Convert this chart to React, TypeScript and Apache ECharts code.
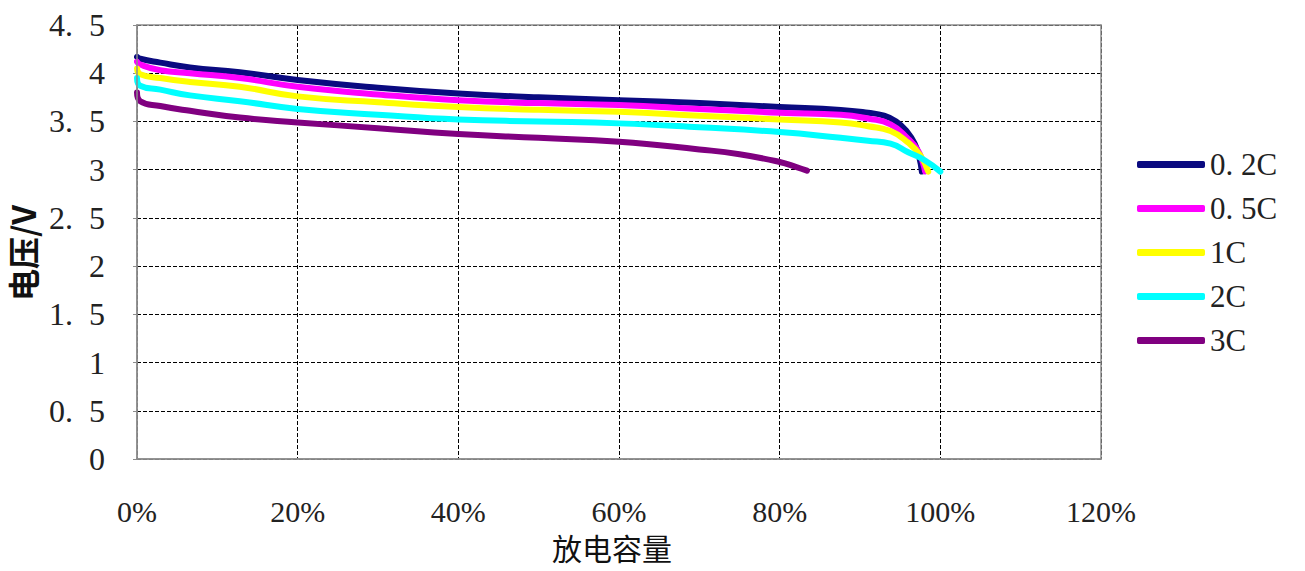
import React, { useEffect, useRef } from "react";
import * as echarts from "echarts";

// Discharge capacity (fraction of nominal) and voltage (V) for each discharge rate
const seriesNames = ["0.2C", "0.5C", "1C", "2C", "3C"];
const seriesColors = ["#0a0a80", "#ff00ff", "#ffff00", "#00ffff", "#800080"];

const capacity02 = [0, 0.004, 0.029, 0.066, 0.128, 0.2, 0.3, 0.4, 0.5, 0.6, 0.7, 0.8, 0.876, 0.91, 0.93, 0.945, 0.958, 0.968, 0.974, 0.977];
const voltage02 = [4.17, 4.15, 4.11, 4.06, 4.01, 3.93, 3.85, 3.79, 3.75, 3.72, 3.69, 3.65, 3.62, 3.59, 3.56, 3.5, 3.4, 3.27, 3.12, 2.98];

const capacity05 = [0, 0.004, 0.029, 0.066, 0.128, 0.2, 0.3, 0.4, 0.5, 0.6, 0.7, 0.8, 0.876, 0.91, 0.938, 0.96, 0.972, 0.978, 0.981];
const voltage05 = [4.12, 4.09, 4.03, 4.0, 3.95, 3.86, 3.78, 3.72, 3.69, 3.67, 3.63, 3.59, 3.57, 3.53, 3.47, 3.32, 3.2, 3.08, 2.98];

const capacity1 = [0, 0.004, 0.029, 0.066, 0.128, 0.2, 0.3, 0.4, 0.5, 0.6, 0.7, 0.8, 0.876, 0.91, 0.938, 0.96, 0.975, 0.985];
const voltage1 = [4.05, 3.99, 3.95, 3.91, 3.86, 3.76, 3.7, 3.65, 3.62, 3.6, 3.56, 3.52, 3.49, 3.45, 3.4, 3.28, 3.15, 2.98];

const capacity2 = [0, 0.004, 0.029, 0.066, 0.128, 0.2, 0.3, 0.4, 0.5, 0.6, 0.7, 0.8, 0.876, 0.91, 0.938, 0.96, 0.98, 1.0];
const voltage2 = [3.95, 3.87, 3.83, 3.77, 3.71, 3.63, 3.57, 3.52, 3.5, 3.48, 3.44, 3.39, 3.33, 3.3, 3.27, 3.18, 3.1, 2.98];

const capacity3 = [0, 0.004, 0.029, 0.066, 0.128, 0.2, 0.3, 0.4, 0.5, 0.6, 0.7, 0.75, 0.8, 0.82, 0.834];
const voltage3 = [3.8, 3.71, 3.66, 3.61, 3.54, 3.49, 3.43, 3.37, 3.33, 3.29, 3.21, 3.16, 3.08, 3.03, 2.99];

const capacities = [capacity02, capacity05, capacity1, capacity2, capacity3];
const voltages = [voltage02, voltage05, voltage1, voltage2, voltage3];

const xTitle = "放电容量";
const yTitle = "电压/V";

const serif = "'Times New Roman', 'Liberation Serif', serif";
const cjk = "'Noto Sans CJK SC', sans-serif";

export default function App() {
  const ref = useRef<HTMLDivElement>(null);
  useEffect(() => {
    if (!ref.current) return;
    const chart = echarts.init(ref.current, undefined, { renderer: "svg" });
    const dashed = { show: true, lineStyle: { color: "#000", type: [4, 2] as any, width: 1 } };
    const gray = "#8c8c8c";
    const borderAxisX = (pos: string) => ({
      type: "value", min: 0, max: 1.2, interval: 0.2, position: pos, z: 5,
      axisLine: { show: true, onZero: false, lineStyle: { color: gray, width: 1.5 } },
      axisTick: { show: false }, axisLabel: { show: false }, splitLine: { show: false },
    });
    const borderAxisY = (pos: string) => ({
      type: "value", min: 0, max: 4.5, interval: 0.5, position: pos, z: 5,
      axisLine: { show: true, onZero: false, lineStyle: { color: gray, width: 1.5 } },
      axisTick: { show: false }, axisLabel: { show: false }, splitLine: { show: false },
    });
    chart.setOption({
      animation: false,
      backgroundColor: "#fff",
      textStyle: { fontFamily: serif },
      grid: { left: 137, right: 204, top: 25, bottom: 112, outerBoundsMode: "none", containLabel: false },
      legend: {
        orient: "vertical",
        left: 1132,
        top: 144,
        itemWidth: 68,
        itemHeight: 7,
        itemGap: 13,
        itemTextGap: 3,
        icon: "roundRect",
        data: seriesNames,
        formatter: (n: string) => n.replace(".", ". "),
        textStyle: { fontFamily: serif, fontSize: 31, color: "#222", lineHeight: 29 },
      },
      xAxis: [
        {
          type: "value",
          min: 0,
          max: 1.2,
          interval: 0.2,
          name: xTitle,
          nameLocation: "middle",
          nameGap: 70,
          nameTextStyle: { fontFamily: cjk, fontSize: 30, lineHeight: 32, color: "#111", padding: [0, 14, 0, 0] },
          axisLine: { show: true, onZero: false, lineStyle: { color: gray, width: 1.5 } },
          axisTick: { show: false },
          axisLabel: {
            margin: 38,
            fontFamily: serif,
            fontSize: 30,
            lineHeight: 28,
            color: "#222",
            formatter: (v: number) => Math.round(v * 100) + "%",
          },
          splitLine: dashed,
        },
        borderAxisX("top"),
        borderAxisX("bottom"),
      ],
      yAxis: [
        {
          type: "value",
          min: 0,
          max: 4.5,
          interval: 0.5,
          name: yTitle,
          nameLocation: "middle",
          nameGap: 92,
          nameTextStyle: { fontFamily: cjk, fontSize: 32, fontWeight: "bold", color: "#111", padding: [0, 22, 0, 0] },
          axisLine: { show: true, lineStyle: { color: gray, width: 1.5 } },
          axisTick: { show: true, length: 4, lineStyle: { color: gray } },
          axisLabel: {
            margin: 32,
            fontFamily: serif,
            fontSize: 32,
            color: "#222",
            formatter: (v: number) => String(v).replace(".", ".  "),
          },
          splitLine: dashed,
        },
        borderAxisY("right"),
        borderAxisY("left"),
      ],
      series: seriesNames.map((name, i) => ({
        name,
        type: "line",
        xAxisIndex: 0,
        yAxisIndex: 0,
        showSymbol: false,
        symbol: "none",
        smooth: true,
        color: seriesColors[i],
        lineStyle: { width: 6, color: seriesColors[i], cap: "round", join: "round" },
        data: capacities[i].map((c, j) => [c, voltages[i][j]]),
        z: 3,
      })),
    });
    return () => chart.dispose();
  }, []);
  return (
    <div
      ref={ref}
      style={{ position: "fixed", left: 0, top: 0, width: 1305, height: 571, background: "#fff" }}
    />
  );
}
